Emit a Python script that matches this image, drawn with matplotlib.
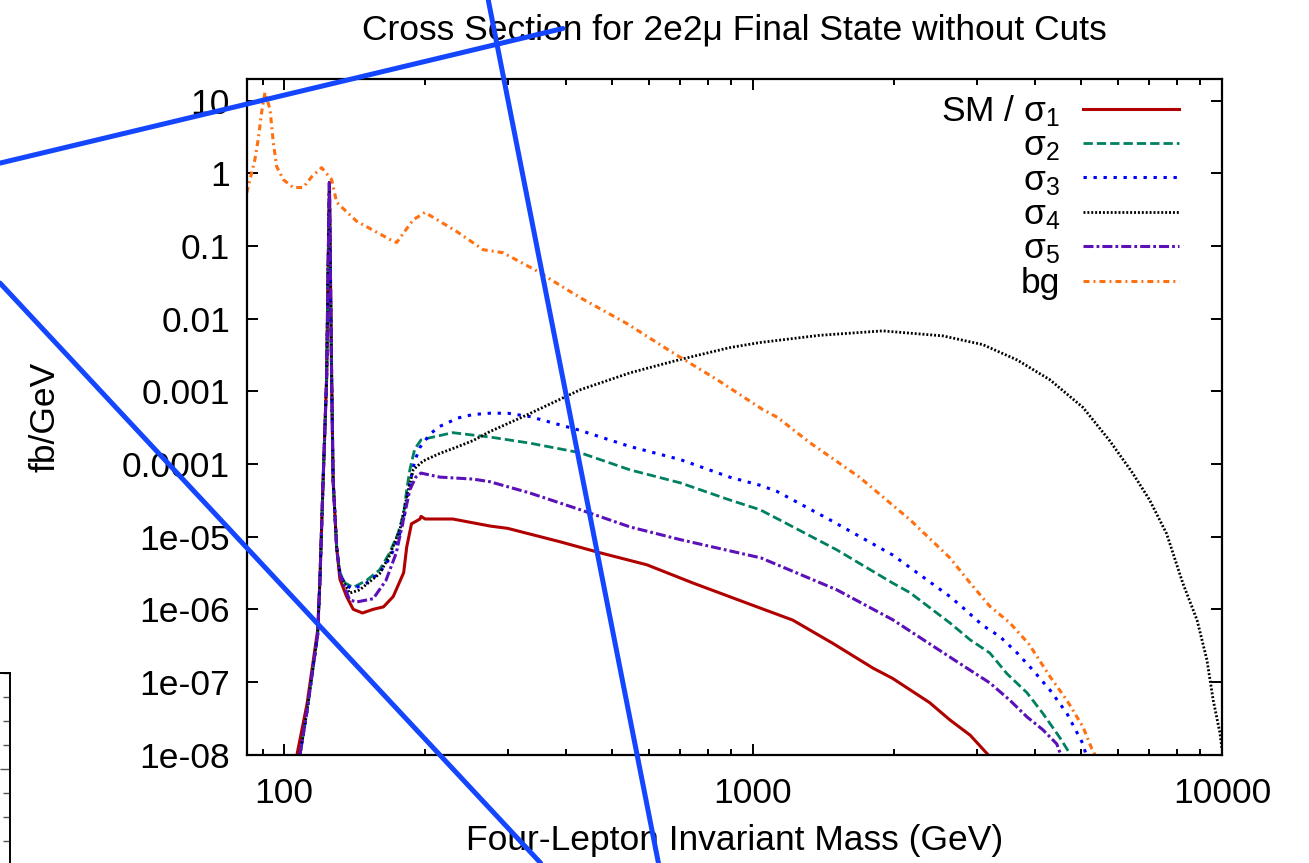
import matplotlib
matplotlib.use('Agg')
import matplotlib.pyplot as plt
from matplotlib.lines import Line2D
from matplotlib.ticker import FixedLocator, FixedFormatter, LogLocator, NullFormatter, NullLocator, MultipleLocator

plt.rcParams['font.family'] = ['Liberation Sans', 'DejaVu Sans']
plt.rcParams['mathtext.fontset'] = 'custom'
plt.rcParams['mathtext.rm'] = 'Liberation Sans'
plt.rcParams['mathtext.it'] = 'Liberation Sans:italic'
plt.rcParams['lines.scale_dashes'] = False

# ---- data: four-lepton mass (GeV) and d(sigma)/dm (fb/GeV) ----
m_sm = [106.6, 112, 118, 119.3, 121.2, 123.3, 124.2, 125.0, 125.7, 126.4, 127.3, 129.5, 131.6,
        136, 140.5, 147, 155, 163, 171, 180, 182.7, 187, 195, 196, 200, 229, 275, 300,
        388, 472, 594, 745, 1020, 1216, 1480, 1803, 1985, 2380, 2630, 2905, 3170]
y_sm = [1e-8, 5e-8, 5.2e-7, 2.5e-6, 6e-5, 1.5e-3, 0.05, 0.75, 0.03, 1.4e-3, 6e-5, 7.2e-6, 2.6e-6,
        1.5e-6, 1.0e-6, 8.9e-7, 1.0e-6, 1.08e-6, 1.5e-6, 3.2e-6, 7.2e-6, 1.5e-5, 1.75e-5, 1.9e-5, 1.75e-5, 1.75e-5, 1.4e-5, 1.3e-5,
        8.5e-6, 6.0e-6, 4.1e-6, 2.3e-6, 1.08e-6, 7.1e-7, 3.4e-7, 1.55e-7, 1.12e-7, 5.2e-8, 3e-8, 1.85e-8, 1e-8]

m_s2 = [108.2, 112, 118, 119.3, 121.2, 123.3, 124.2, 125.0, 125.7, 126.4, 127.3, 129.5, 131.6,
        135, 140.5, 150, 160, 168, 175, 180, 182.7, 185.5, 190, 196, 208, 229, 253, 275,
        334, 428, 547, 700, 892, 1035, 1140, 1508, 1985, 2160, 2630, 2905, 3200, 3480, 3840, 4150, 4515, 4670, 4750]
y_s2 = [1e-8, 4e-8, 4.5e-7, 2.5e-6, 6e-5, 1.5e-3, 0.05, 0.75, 0.03, 1.4e-3, 6e-5, 7.2e-6, 3.2e-6,
        2.3e-6, 2.0e-6, 2.5e-6, 3.5e-6, 6.0e-6, 1.1e-5, 2.1e-5, 4.4e-5, 8.3e-5, 1.6e-4, 2.15e-4, 2.35e-4, 2.7e-4, 2.5e-4, 2.35e-4,
        1.94e-4, 1.43e-4, 8.3e-5, 5.5e-5, 3.2e-5, 2.35e-5, 1.7e-5, 6.6e-6, 2.3e-6, 1.7e-6, 6.5e-7, 3.8e-7, 2.5e-7, 1.3e-7, 7.1e-8, 3.7e-8, 1.7e-8, 1.2e-8, 1e-8]

m_s3 = [108.2, 112, 118, 119.3, 121.2, 123.3, 124.2, 125.0, 125.7, 126.4, 127.3, 129.5, 131.6,
        135, 140, 150, 160, 168, 175, 180, 185, 190, 195, 205, 215, 235, 253, 275, 300,
        334, 428, 547, 700, 892, 1035, 1125, 1460, 1985, 2630, 2805, 3090, 3364, 3660, 3955, 4300, 4670, 5055, 5130]
y_s3 = [1e-8, 4e-8, 4.5e-7, 2.5e-6, 6e-5, 1.5e-3, 0.05, 0.75, 0.03, 1.4e-3, 6e-5, 7.2e-6, 3.2e-6,
        2.2e-6, 1.9e-6, 2.3e-6, 3.2e-6, 5e-6, 9e-6, 1.7e-5, 5e-5, 1.1e-4, 1.7e-4, 2.6e-4, 3.3e-4, 4.3e-4, 4.8e-4, 5.0e-4, 5.0e-4,
        4.5e-4, 2.9e-4, 1.74e-4, 1.15e-4, 6.6e-5, 5.1e-5, 4.2e-5, 1.7e-5, 5.6e-6, 1.5e-6, 1.05e-6, 6.0e-7, 4.2e-7, 2.5e-7, 1.45e-7, 7.7e-8, 3.7e-8, 1.4e-8, 1e-8]

m_s4 = [108.2, 112, 118, 119.3, 121.2, 123.3, 124.2, 125.0, 125.7, 126.4, 127.3, 129.5, 131.6,
        138, 145, 160, 168, 177, 182.7, 188.6, 198, 215, 233, 253, 275, 324, 428, 547, 700, 892,
        1035, 1385, 1890, 2540, 3090, 3660, 4300, 5055, 5760, 6450, 7010, 7620, 8250, 8850, 9290, 9580, 9900, 10000]
y_s4 = [1e-8, 4e-8, 4.5e-7, 2.5e-6, 6e-5, 1.5e-3, 0.05, 0.75, 0.03, 1.4e-3, 6e-5, 7.2e-6, 3.0e-6,
        1.67e-6, 1.85e-6, 3.1e-6, 5.5e-6, 1.3e-5, 3.5e-5, 8.3e-5, 1.1e-4, 1.4e-4, 1.7e-4, 2.1e-4, 2.8e-4, 4.5e-4, 1.05e-3, 1.8e-3, 2.75e-3, 4.0e-3,
        4.7e-3, 5.9e-3, 6.8e-3, 5.8e-3, 4.4e-3, 2.7e-3, 1.44e-3, 6.0e-4, 2.1e-4, 7.5e-5, 3.2e-5, 1.1e-5, 2.3e-6, 7.1e-7, 2e-7, 5.6e-8, 2e-8, 1.2e-8]

m_s5 = [108.2, 112, 118, 119.3, 121.2, 123.3, 124.2, 125.0, 125.7, 126.4, 127.3, 129.5, 131.6,
        138, 142.8, 155, 165, 173.6, 181, 185.5, 191, 196, 215, 253, 275, 334, 428, 547, 700,
        1040, 1508, 1985, 2630, 2905, 3200, 3530, 3840, 4150, 4445, 4530]
y_s5 = [1e-8, 4e-8, 4.5e-7, 2.5e-6, 6e-5, 1.5e-3, 0.05, 0.75, 0.03, 1.4e-3, 6e-5, 7.2e-6, 3.0e-6,
        1.35e-6, 1.26e-6, 1.4e-6, 2.5e-6, 6.0e-6, 2.1e-5, 4.4e-5, 6.6e-5, 7.5e-5, 6.6e-5, 6.2e-5, 5.7e-5, 4.0e-5, 2.35e-5, 1.36e-5, 9.1e-6,
        5.1e-6, 1.86e-6, 7.2e-7, 2.2e-7, 1.45e-7, 9.7e-8, 5.6e-8, 3.3e-8, 2.2e-8, 1.4e-8, 1e-8]

m_bg = [83.3, 86.7, 88.1, 89.6, 91.1, 93.4, 94.9, 96.5, 99.7, 104.6, 109.9, 114.6, 120.3, 126.4, 129.5,
        142.8, 168.3, 173.9, 188.6, 199.8, 233, 266, 293, 343, 428, 538, 670, 838, 1050, 1127,
        1323, 1686, 2164, 2630, 2905, 3200, 3530, 3880, 4300, 4670, 5055, 5280, 5360]
y_bg = [0.54, 1.55, 2.9, 6.9, 13, 7.6, 2.65, 1.24, 0.82, 0.64, 0.64, 0.90, 1.2, 0.82, 0.40,
        0.22, 0.123, 0.112, 0.23, 0.29, 0.16, 0.089, 0.081, 0.047, 0.0195, 0.0086, 0.0035, 0.00145, 5.6e-4, 4.4e-4,
        1.96e-4, 6.6e-5, 1.7e-5, 5.1e-6, 2.3e-6, 1.1e-6, 6.5e-7, 3.3e-7, 1.18e-7, 5.6e-8, 2.4e-8, 1.2e-8, 1e-8]

labels = ['SM / σ$_1$', 'σ$_2$', 'σ$_3$', 'σ$_4$', 'σ$_5$', 'bg']
x_ticks = [100, 1000, 10000]
x_ticklabels = ['100', '1000', '10000']
y_ticks = [1e-8, 1e-7, 1e-6, 1e-5, 1e-4, 1e-3, 1e-2, 0.1, 1, 10]
y_ticklabels = ['1e-08', '1e-07', '1e-06', '1e-05', '0.0001', '0.001', '0.01', '0.1', '1', '10']

# pen strokes drawn across the page, in figure fractions (x0, y0, x1, y1)
strokes = [(0.0, 0.811, 0.430, 0.967),
           (0.373, 1.0, 0.503, 0.0),
           (0.0, 0.672, 0.413, 0.0)]

FS = 25.5

fig = plt.figure(figsize=(13.09, 8.63), dpi=100)
ax = fig.add_axes([0.1885, 0.1256, 0.745, 0.783])

ax.plot(m_sm, y_sm, color='#b00000', lw=2.2, label=labels[0])
ax.plot(m_s2, y_s2, color='#008060', lw=2.0, dashes=(6.7, 2.9), label=labels[1])
ax.plot(m_s3, y_s3, color='#0000ff', lw=2.2, dashes=(2.4, 4.8), dash_capstyle='butt', label=labels[2])
ax.plot(m_s4, y_s4, color='black', lw=2.0, dashes=(1.4, 1.4), dash_capstyle='butt', label=labels[3])
ax.plot(m_s5, y_s5, color='#5b10b8', lw=2.2, dashes=(7.2, 2.2, 2.0, 2.2), label=labels[4])
ax.plot(m_bg, y_bg, color='#ff7010', lw=2.2, dashes=(4.3, 2.9, 1.4, 2.9), label=labels[5])

ax.set_xscale('log')
ax.set_yscale('log')
ax.set_xlim(83.3, 10000)
ax.set_ylim(1e-8, 20)

ax.xaxis.set_major_locator(FixedLocator(x_ticks))
ax.xaxis.set_major_formatter(FixedFormatter(x_ticklabels))
ax.xaxis.set_minor_locator(LogLocator(base=10, subs=range(2, 10)))
ax.xaxis.set_minor_formatter(NullFormatter())
ax.yaxis.set_major_locator(FixedLocator(y_ticks))
ax.yaxis.set_major_formatter(FixedFormatter(y_ticklabels))
ax.yaxis.set_minor_locator(NullLocator())

ax.tick_params(which='both', direction='in', top=True, right=True, width=1.4, labelsize=FS)
ax.tick_params(which='major', length=8)
ax.tick_params(which='minor', length=4.5)
ax.tick_params(axis='x', pad=16)
ax.tick_params(axis='y', pad=12)
for sp in ax.spines.values():
    sp.set_linewidth(1.6)

ax.set_title('Cross Section for 2e2μ Final State without Cuts', fontsize=FS, pad=28)
ax.set_xlabel('Four-Lepton Invariant Mass (GeV)', fontsize=FS, labelpad=10)
ax.set_ylabel('fb/GeV', fontsize=FS)
ax.yaxis.set_label_coords(-0.19, 0.5)

ax.legend(loc='upper right', frameon=False, markerfirst=False, fontsize=FS,
          handlelength=2.7, handletextpad=0.65, labelspacing=0.02,
          borderaxespad=0.0, bbox_to_anchor=(0.970, 1.0))

# corner of a neighbouring panel at the bottom left
ax2 = fig.add_axes([-0.05, -0.058, 0.05 + 10 / 1309, 1 - 673 / 863 + 0.058])
ax2.set_xlim(0, 1)
ax2.set_ylim(0, 10)
ax2.xaxis.set_major_locator(NullLocator())
ax2.yaxis.set_major_locator(FixedLocator([1, 6]))
ax2.yaxis.set_minor_locator(MultipleLocator(1))
ax2.yaxis.set_major_formatter(NullFormatter())
ax2.tick_params(axis='y', which='both', direction='in', left=False, right=True, width=1.0, colors='#555555')
ax2.tick_params(axis='y', which='major', length=7)
ax2.tick_params(axis='y', which='minor', length=5)
for sp in ax2.spines.values():
    sp.set_linewidth(1.4)

for x0, y0, x1, y1 in strokes:
    fig.add_artist(Line2D([x0, x1], [y0, y1], transform=fig.transFigure,
                          color='#1446ff', lw=3.6, solid_capstyle='round', zorder=10))

fig.savefig('out.png', dpi=100)
